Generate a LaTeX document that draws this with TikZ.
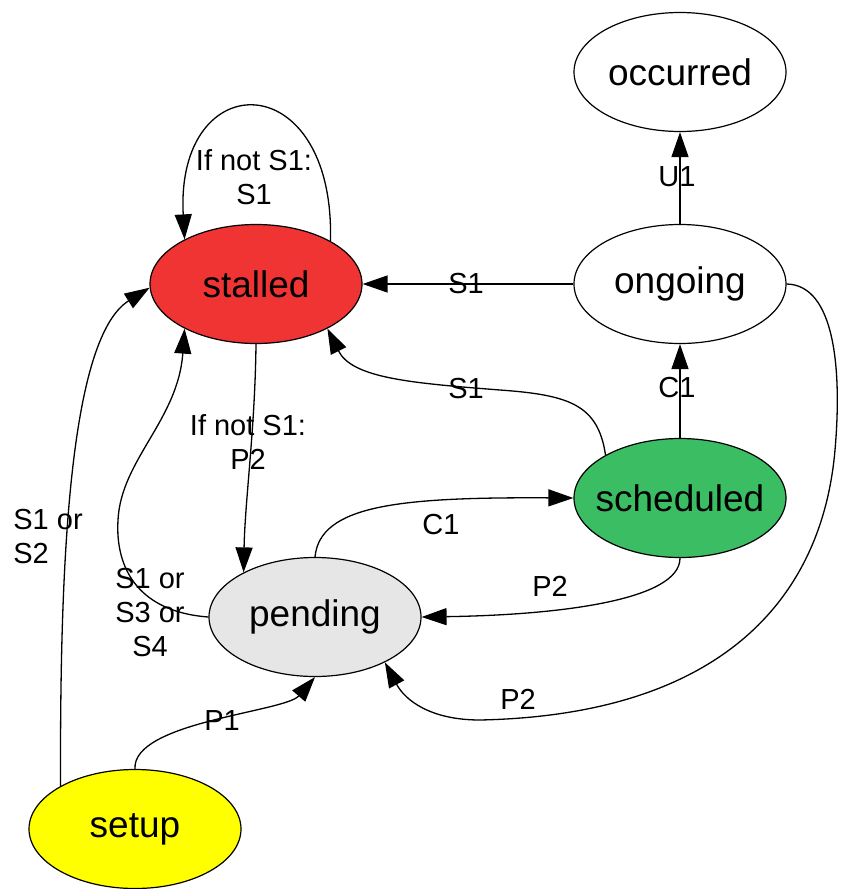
\documentclass[tikz,border=0pt]{standalone}
\usepackage{fontspec}
\setmainfont{Liberation Sans}
\usetikzlibrary{shapes.geometric,arrows.meta}
\definecolor{stallred}{RGB}{240,52,52}
\definecolor{schedgreen}{RGB}{59,190,99}
\definecolor{pendgray}{RGB}{230,230,230}
\definecolor{setupyellow}{RGB}{255,255,0}
\begin{document}
\begin{tikzpicture}[x=0.5pt,y=-0.5pt,
  state/.style={ellipse, draw=black, line width=0.6pt,
    minimum width=106pt, minimum height=59.5pt,
    inner xsep=-14pt, inner ysep=0pt,
    font=\fontsize{18.5}{22}\selectfont},
  trans/.style={draw, line width=0.65pt, -{Triangle[length=12.5pt,width=8.5pt]}},
  lbl/.style={font=\fontsize{14.5}{17}\selectfont, align=center, inner sep=0pt}]
\useasboundingbox (0,0) rectangle (841,889);
\fill[white] (0,0) rectangle (841,889);

% states
\node[state] (occurred) at (680,72) {occurred};
\node[state] (ongoing) at (680,284) {ongoing};
\node[state, fill=stallred] (stalled) at (256,284) {stalled};
\node[state, fill=schedgreen] (scheduled) at (680,498) {scheduled};
\node[state, fill=pendgray] (pending) at (315,617) {pending};
\node[state, fill=setupyellow] (setup) at (135,829) {setup};

% transitions
\draw[trans] (ongoing) -- (occurred);
\draw[trans] (ongoing) -- (stalled);
\draw[trans] (scheduled) -- (ongoing);
\draw[trans] (stalled.30) .. controls (335,64) and (175,64) .. (stalled.148);
\draw[trans] (scheduled.150) .. controls (598,405) and (570,395) .. (500,390)
  .. controls (410,383) and (352,378) .. (stalled.-32);
\draw[trans] (setup.150) .. controls (60,590) and (66,340) .. (stalled.182);
\draw[trans] (stalled.south) .. controls (255,430) and (245,500) .. (pending.148);
\draw[trans] (pending.west) .. controls (140,612) and (115,570) .. (118,520)
  .. controls (121,460) and (178,420) .. (stalled.-148);
\draw[trans] (pending.north) .. controls (320,505) and (400,497) .. (scheduled.west);
\draw[trans] (scheduled.south) .. controls (680,600) and (560,615) .. (pending.east);
\draw[trans] (ongoing.east) .. controls (835,285) and (842,370) .. (835,450)
  .. controls (822,600) and (720,715) .. (480,720)
  .. controls (430,720) and (405,700) .. (pending.-33);
\draw[trans] (setup.north) .. controls (132,722) and (285,712) .. (pending.south);

% transition labels
\node[lbl] (l-loop) at (254,177) {If not S1:\\S1};
\node[lbl] (l-stp) at (248,442) {If not S1:\\P2};
\node[lbl, align=left, anchor=west] (l-sts) at (13,537) {S1 or\\S2};
\node[lbl] (l-pst) at (150,613) {S1 or\\S3 or\\S4};
\node[lbl] (l-ogs) at (466,284) {S1};
\node[lbl] (l-scs) at (466,389) {S1};
\node[lbl] (l-ogo) at (677,177) {U1};
\node[lbl] (l-sco) at (677,388) {C1};
\node[lbl] (l-psc) at (441,525) {C1};
\node[lbl] (l-scp) at (550,586) {P2};
\node[lbl] (l-ogp) at (518,699) {P2};
\node[lbl] (l-sp) at (222,721) {P1};
\end{tikzpicture}
\end{document}
